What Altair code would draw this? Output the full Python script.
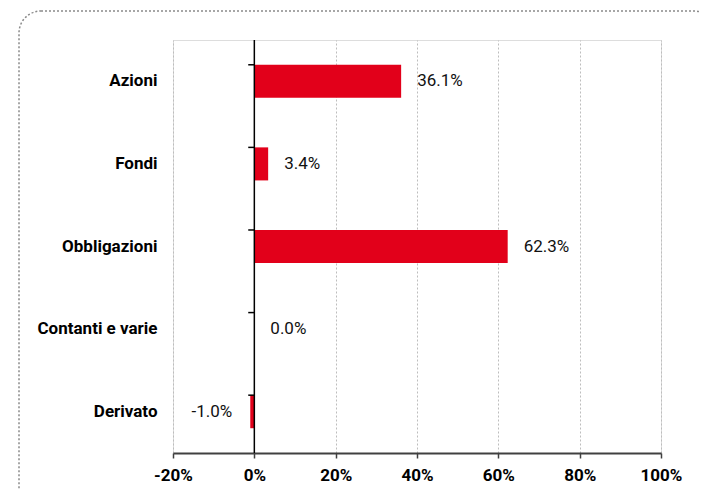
import altair as alt
import pandas as pd

categories = ["Azioni", "Fondi", "Obbligazioni", "Contanti e varie", "Derivato"]
values = [36.1, 3.4, 62.3, 0.0, -1.0]
x_ticks = [-20, 0, 20, 40, 60, 80, 100]

df = pd.DataFrame({"cat": categories, "v": values})

RED = "#e2001a"
BOLD_FONT = "Roboto"
REG_FONT = "Roboto"
LBL_EXPR = "replace(format(datum.v, '.1f'), '\u2212', '-') + '%'"

xscale = alt.Scale(domain=[-20, 100], nice=False, zero=False)
yscale = alt.Scale(domain=categories, paddingInner=0.6, paddingOuter=0.3)

base = alt.Chart(df)

bars = base.mark_bar(color=RED).encode(
    x=alt.X("v:Q", scale=xscale,
            axis=alt.Axis(values=x_ticks, labelExpr="datum.value + '%'", title=None,
                          grid=True, gridColor="#bdbdbd", gridDash=[2, 2], gridWidth=1,
                          domainColor="#404040", domainWidth=2,
                          tickColor="#404040", tickSize=5, tickWidth=1.5,
                          labelFlush=False, labelOverlap=False,
                          labelFont=BOLD_FONT, labelFontWeight="bold", labelFontSize=17,
                          labelColor="#000000", labelPadding=9)),
    x2=alt.datum(0),
    y=alt.Y("cat:N", scale=yscale, sort=categories,
            axis=alt.Axis(title=None, ticks=False, domain=False, grid=False,
                          labelFont=BOLD_FONT, labelFontWeight="bold", labelFontSize=17,
                          labelColor="#000000", labelPadding=16)),
)

pos_labels = base.transform_filter("datum.v >= 0").transform_calculate(
    lbl=LBL_EXPR
).mark_text(
    align="left", baseline="middle", dx=16, font=REG_FONT, fontSize=17, color="#111111"
).encode(
    x="v:Q",
    y=alt.Y("cat:N", sort=categories),
    text="lbl:N",
)

neg_labels = base.transform_filter("datum.v < 0").transform_calculate(
    lbl=LBL_EXPR
).mark_text(
    align="right", baseline="middle", dx=-18, font=REG_FONT, fontSize=17, color="#111111"
).encode(
    x="v:Q",
    y=alt.Y("cat:N", sort=categories),
    text="lbl:N",
)

zero_line = alt.Chart(pd.DataFrame({"z": [0]})).mark_rule(color="#000000", strokeWidth=1.5).encode(
    x=alt.X("z:Q")
)

zero_ticks = base.mark_rule(color="#000000", strokeWidth=1.5).encode(
    y=alt.Y("cat:N", sort=categories, bandPosition=0),
    x=alt.datum(-1.5),
    x2=alt.datum(0),
)

border = alt.Chart(pd.DataFrame({"b": [1]})).mark_rect(
    fill="transparent", stroke="#8a8a8a", strokeWidth=1.5, strokeDash=[2, 2], cornerRadius=22
).encode(
    x=alt.value(-154), x2=alt.value(543), y=alt.value(-29), y2=alt.value(470)
)

chart = alt.layer(border, bars, zero_line, zero_ticks, pos_labels, neg_labels).properties(
    width=488, height=413,
    autosize=alt.AutoSizeParams(type="none"),
    padding={"left": 165, "top": 32, "right": 38, "bottom": 36},
).configure_view(stroke=None).configure(background="white")

chart.save("out.html", embed_options={"renderer": "svg", "actions": False})
